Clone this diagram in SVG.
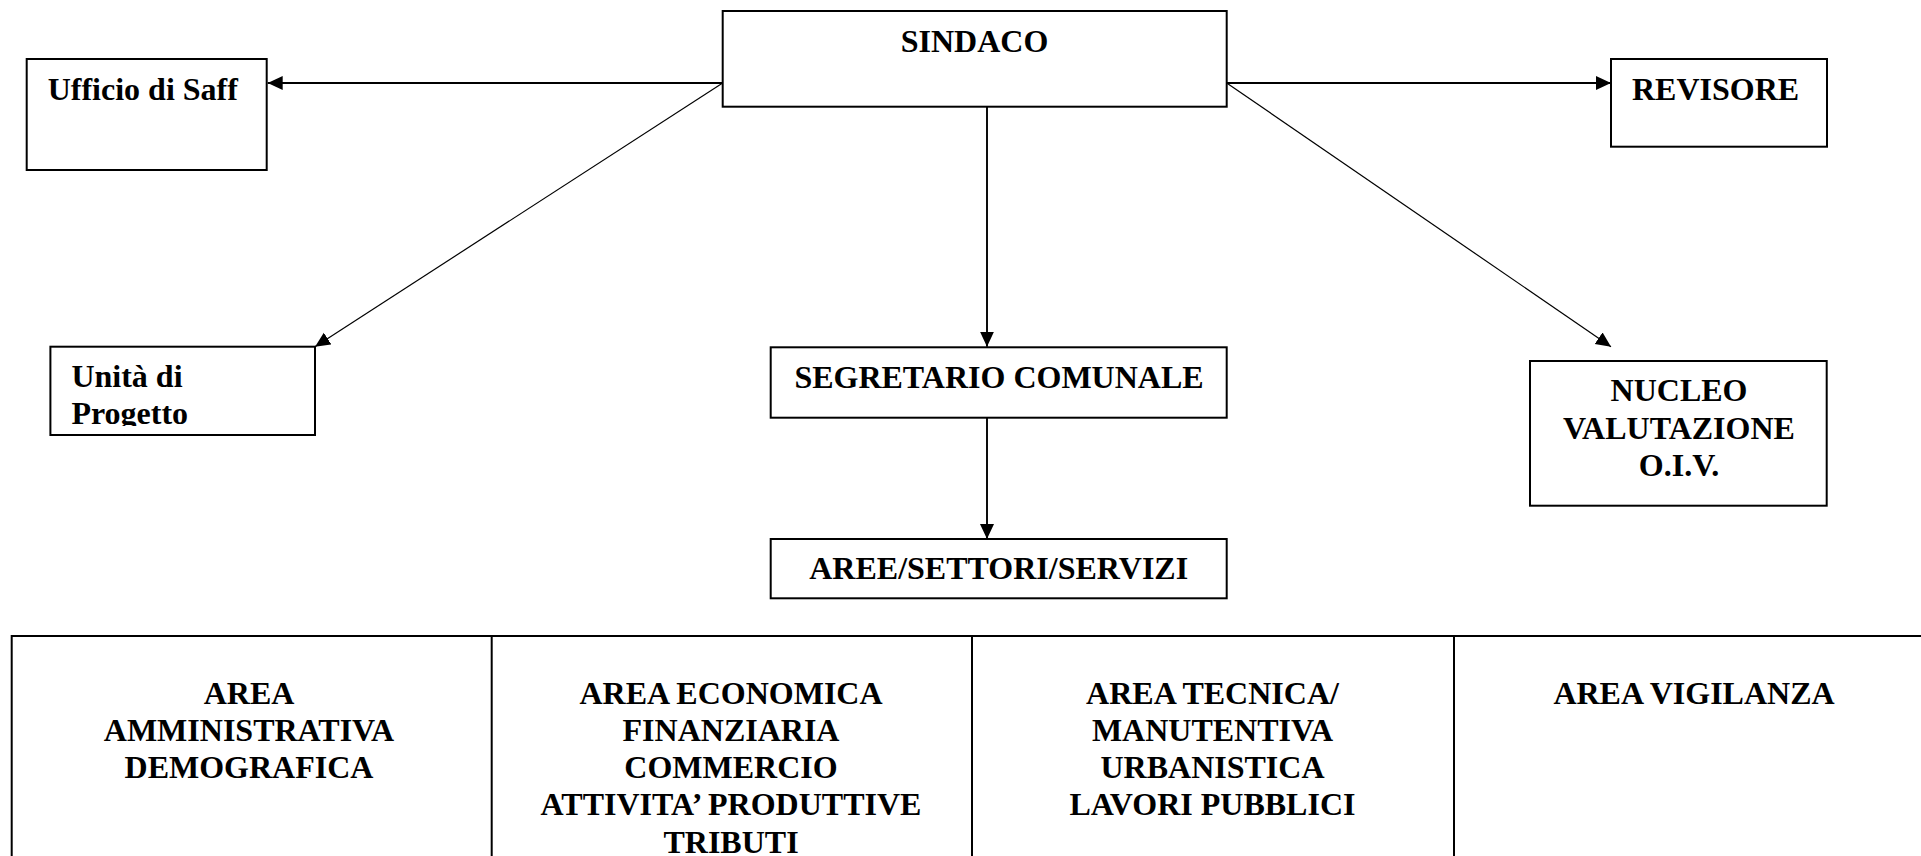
<svg xmlns="http://www.w3.org/2000/svg" width="1921" height="856" viewBox="0 0 1921 856">
  <style>
    .box { fill: #ffffff; stroke: #000000; stroke-width: 2; }
    .lbl { font-family: "Liberation Serif", "Times New Roman", serif; font-weight: bold; font-size: 32px; fill: #000000; }
    .mid { text-anchor: middle; }
    .conn { fill: none; stroke: #000000; stroke-width: 1.9; }
    .diag { fill: none; stroke: #000000; stroke-width: 1.2; }
    .grid { fill: none; stroke: #000000; stroke-width: 2; }
  </style>
  <defs>
    <marker id="ah" markerWidth="16" markerHeight="16" refX="15" refY="7" orient="auto" markerUnits="userSpaceOnUse">
      <path d="M0,0 L15,7 L0,14 z" fill="#000000"/>
    </marker>
    <clipPath id="clipUnita">
      <rect x="50" y="346" width="266" height="80"/>
    </clipPath>
  </defs>
  <rect width="1921" height="856" fill="#ffffff"/>

  <g id="connectors">
    <line class="conn" x1="722.7" y1="83" x2="267.7" y2="83" marker-end="url(#ah)"/>
    <line class="conn" x1="1226.7" y1="83" x2="1611" y2="83" marker-end="url(#ah)"/>
    <line class="diag" x1="722.7" y1="83" x2="315" y2="346.7" marker-end="url(#ah)"/>
    <line class="diag" x1="1226.7" y1="83" x2="1611" y2="346.7" marker-end="url(#ah)"/>
    <line class="conn" x1="987" y1="106.7" x2="987" y2="346.7" marker-end="url(#ah)"/>
    <line class="conn" x1="987" y1="417.7" x2="987" y2="539" marker-end="url(#ah)"/>
  </g>

  <g id="sindaco">
    <rect class="box" x="722.7" y="11" width="504" height="95.7"/>
    <text class="lbl mid" x="974.5" y="52.3">SINDACO</text>
  </g>

  <g id="ufficio-saff">
    <rect class="box" x="26.7" y="59" width="240" height="111"/>
    <text class="lbl" x="47.7" y="100">Ufficio di Saff</text>
  </g>

  <g id="revisore">
    <rect class="box" x="1611" y="59" width="216" height="87.7"/>
    <text class="lbl" x="1632" y="100">REVISORE</text>
  </g>

  <g id="unita-progetto">
    <rect class="box" x="50.4" y="346.7" width="264.6" height="88.3"/>
    <g clip-path="url(#clipUnita)">
      <text class="lbl" x="71.4" y="387.3">Unità di</text>
      <text class="lbl" x="71.4" y="424.3">Progetto</text>
    </g>
  </g>

  <g id="segretario">
    <rect class="box" x="770.7" y="347.3" width="456" height="70.4"/>
    <text class="lbl mid" x="999" y="388.3">SEGRETARIO COMUNALE</text>
  </g>

  <g id="nucleo">
    <rect class="box" x="1530" y="361" width="296.7" height="144.7"/>
    <text class="lbl mid" x="1679" y="401">NUCLEO</text>
    <text class="lbl mid" x="1679" y="438.5">VALUTAZIONE</text>
    <text class="lbl mid" x="1679" y="476.3">O.I.V.</text>
  </g>

  <g id="aree">
    <rect class="box" x="770.7" y="539" width="456" height="59.3"/>
    <text class="lbl mid" x="998.7" y="579">AREE/SETTORI/SERVIZI</text>
  </g>

  <g id="table-areas">
    <rect class="grid" x="11.7" y="636" width="1924" height="260"/>
    <line class="grid" x1="491.7" y1="636" x2="491.7" y2="900"/>
    <line class="grid" x1="972" y1="636" x2="972" y2="900"/>
    <line class="grid" x1="1454" y1="636" x2="1454" y2="900"/>
  </g>

  <g id="area-amministrativa">
    <text class="lbl mid" x="249" y="703.5">AREA</text>
    <text class="lbl mid" x="249" y="740.8">AMMINISTRATIVA</text>
    <text class="lbl mid" x="249" y="778.1">DEMOGRAFICA</text>
  </g>

  <g id="area-economica">
    <text class="lbl mid" x="731" y="703.5">AREA ECONOMICA</text>
    <text class="lbl mid" x="731" y="740.8">FINANZIARIA</text>
    <text class="lbl mid" x="731" y="778.1">COMMERCIO</text>
    <text class="lbl mid" x="731" y="815.4">ATTIVITA’ PRODUTTIVE</text>
    <text class="lbl mid" x="731" y="852.7">TRIBUTI</text>
  </g>

  <g id="area-tecnica">
    <text class="lbl mid" x="1212.5" y="703.5">AREA TECNICA/</text>
    <text class="lbl mid" x="1212.5" y="740.8">MANUTENTIVA</text>
    <text class="lbl mid" x="1212.5" y="778.1">URBANISTICA</text>
    <text class="lbl mid" x="1212.5" y="815.4">LAVORI PUBBLICI</text>
  </g>

  <g id="area-vigilanza">
    <text class="lbl mid" x="1694" y="703.5">AREA VIGILANZA</text>
  </g>
</svg>
